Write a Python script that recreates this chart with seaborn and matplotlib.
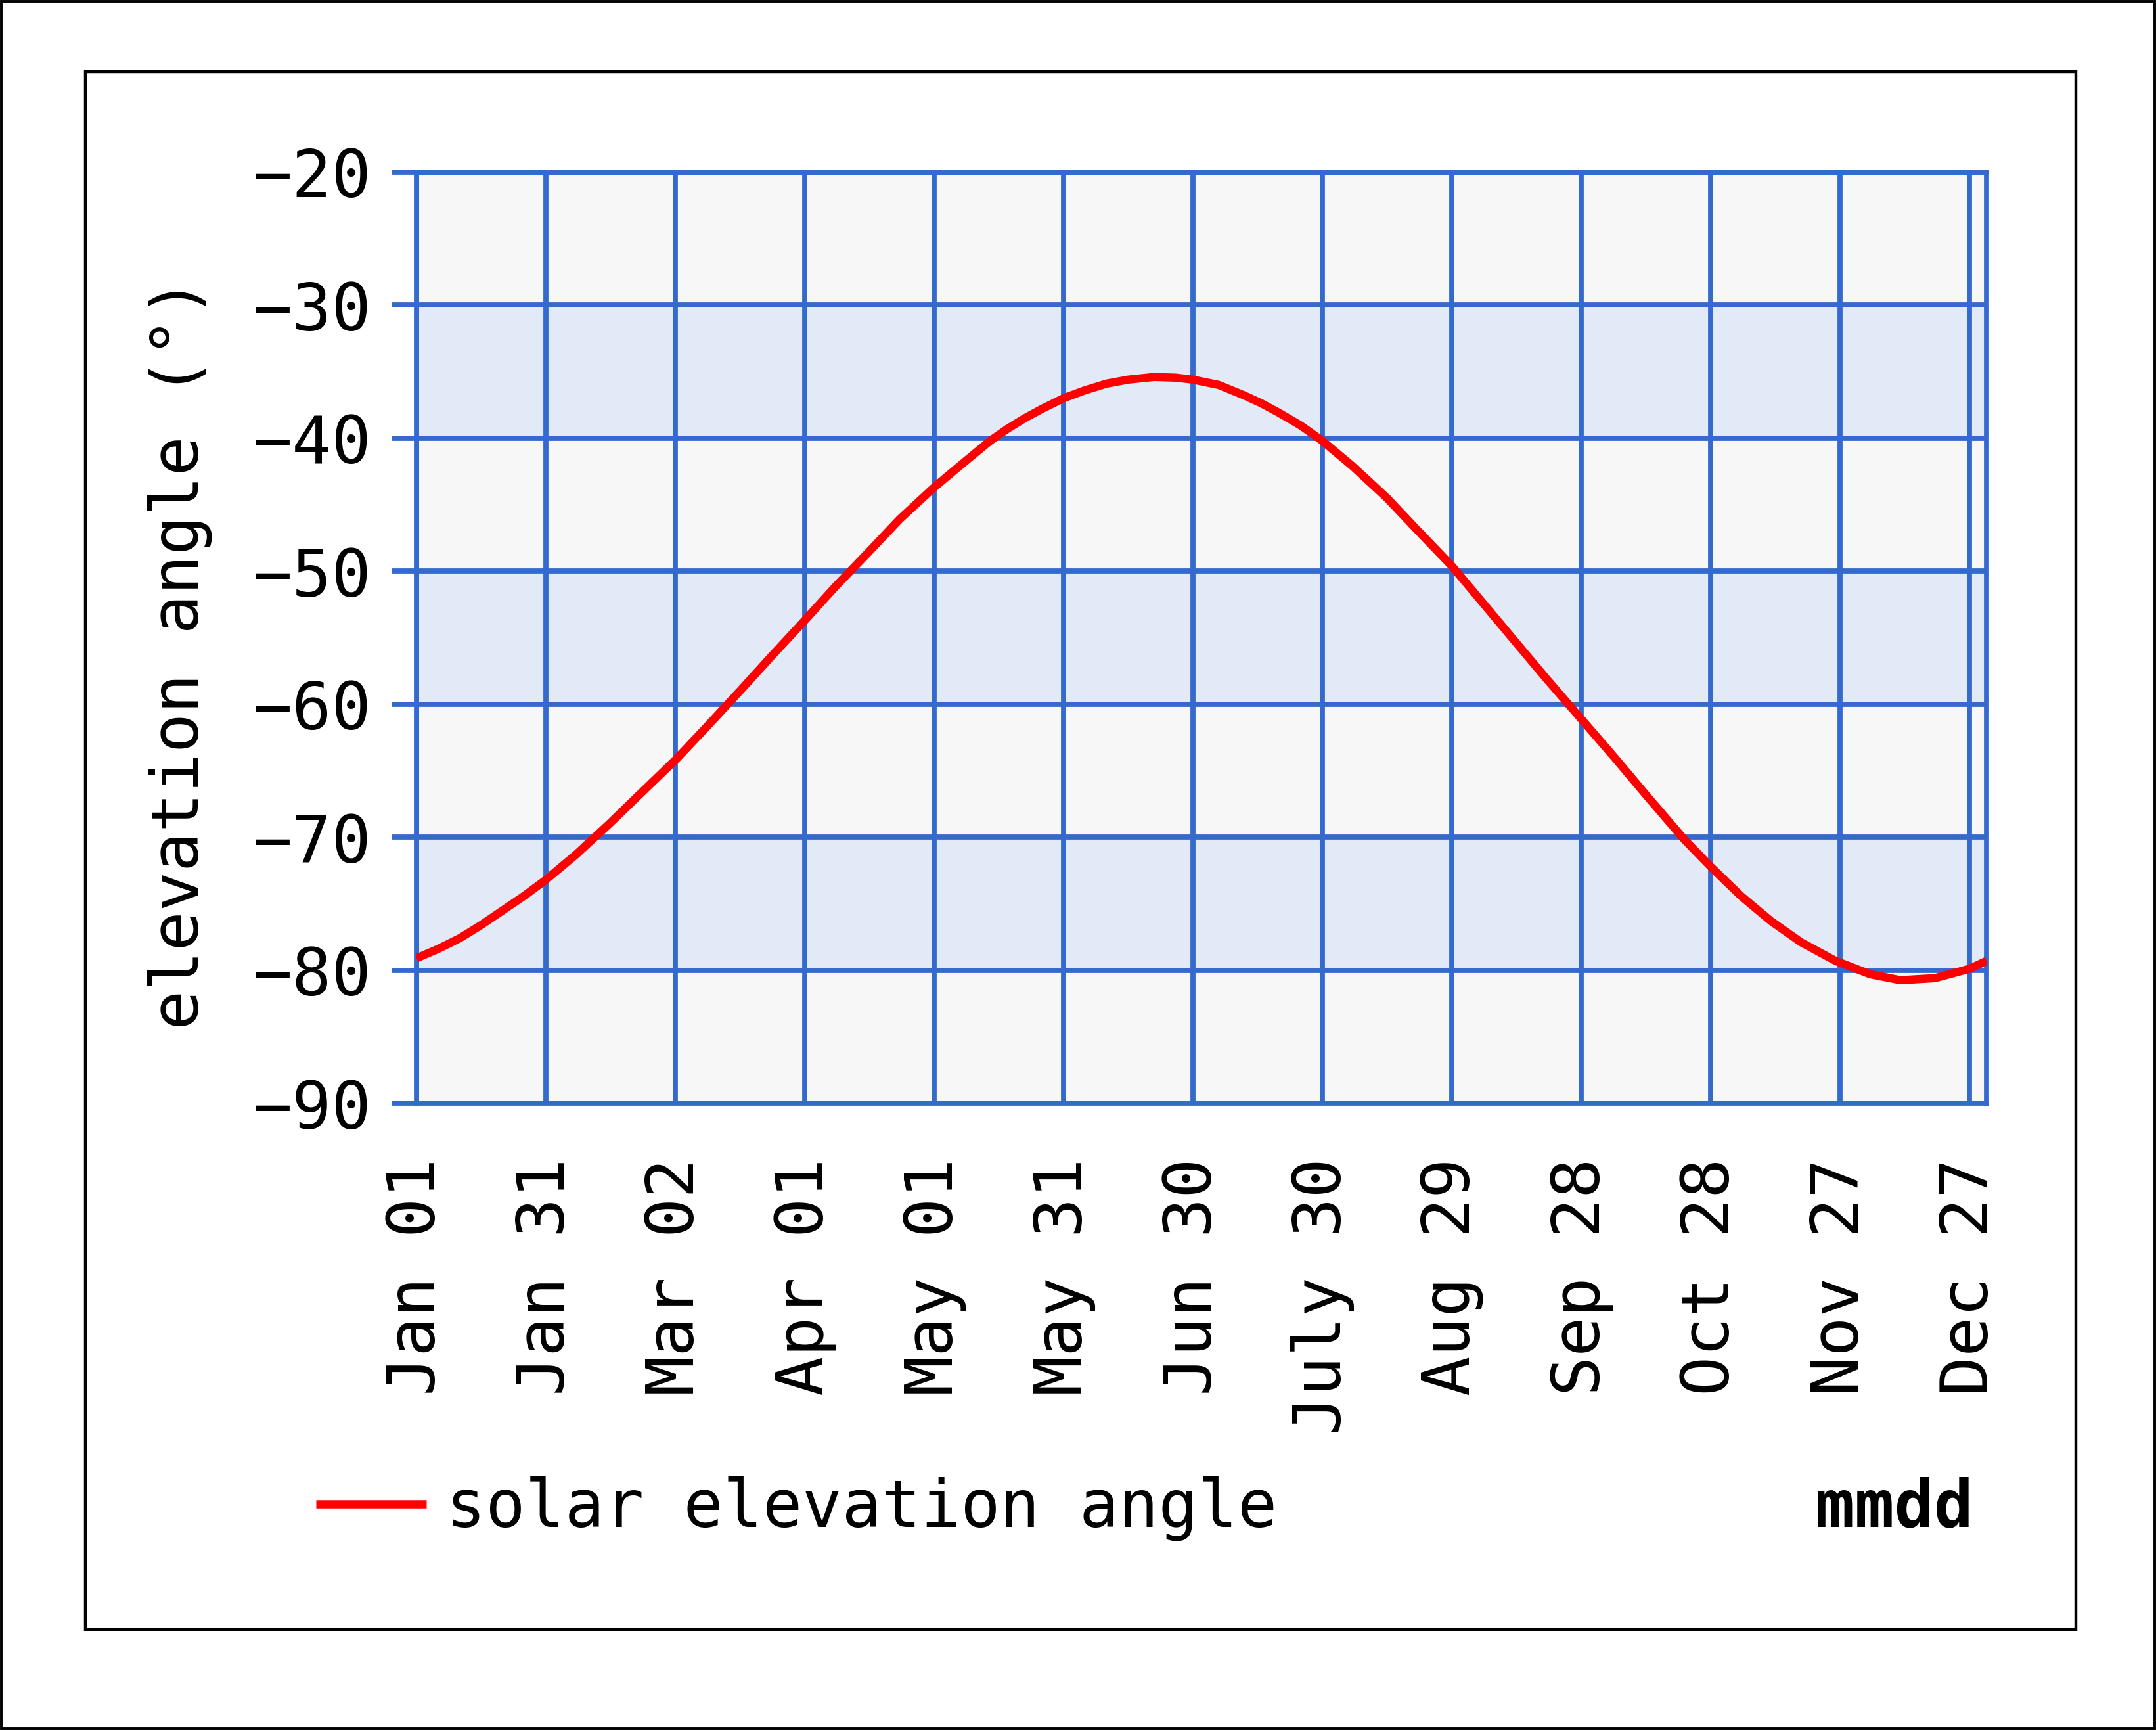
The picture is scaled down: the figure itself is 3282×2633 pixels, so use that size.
import matplotlib
matplotlib.use("Agg")
import matplotlib.pyplot as plt
from matplotlib.patches import Rectangle
import seaborn as sns

sns.set_theme(style="white")
plt.rcParams['font.family'] = ['DejaVu Sans Mono', 'DejaVu Sans']
plt.rcParams['text.color'] = 'black'
plt.rcParams['axes.labelcolor'] = 'black'

# day of year (Jan 01 = 0) and solar elevation angle
day_of_year = [0, 5, 10, 15, 20, 25, 30, 37, 45, 52, 60, 67, 75, 82, 90, 97,
               105, 112, 120, 127, 133, 137, 141, 145, 150, 155, 160, 165,
               171, 176, 180, 186, 192, 196, 200, 205, 210, 217, 225, 232,
               240, 247, 255, 262, 270, 278, 285, 294, 300, 307, 314, 321,
               329, 337, 344, 352, 360, 364]
elevation_deg = [-79.1, -78.4, -77.6, -76.6, -75.5, -74.4, -73.2, -71.3,
                 -68.9, -66.7, -64.2, -61.8, -59.0, -56.5, -53.7, -51.2,
                 -48.5, -46.1, -43.7, -41.8, -40.2, -39.3, -38.5, -37.8,
                 -37.0, -36.4, -35.9, -35.6, -35.4, -35.45, -35.6, -36.0,
                 -36.8, -37.4, -38.1, -39.05, -40.2, -42.1, -44.5, -46.9,
                 -49.6, -52.3, -55.4, -58.1, -61.1, -64.1, -66.8, -70.2,
                 -72.2, -74.4, -76.3, -77.9, -79.3, -80.3, -80.75, -80.6,
                 -79.9, -79.3]

tick_days = [0, 30, 60, 90, 120, 150, 180, 210, 240, 270, 300, 330, 360]
tick_labels = ['Jan 01', 'Jan 31', 'Mar 02', 'Apr 01', 'May 01', 'May 31',
               'Jun 30', 'July 30', 'Aug 29', 'Sep 28', 'Oct 28', 'Nov 27',
               'Dec 27']
y_ticks = [-90, -80, -70, -60, -50, -40, -30, -20]
shaded_bands = [(-40, -30), (-60, -50), (-80, -70)]

grid_blue = '#3469cd'
band_blue = '#e3eaf7'
plot_gray = '#f7f7f7'
fs = 36

fig = plt.figure(figsize=(16.41, 13.165), dpi=200)
fig.patch.set_facecolor('white')
ax = fig.add_axes([0.1932, 0.3623, 0.7282, 0.5382])
ax.set_facecolor(plot_gray)

for lo, hi in shaded_bands:
    ax.axhspan(lo, hi, color=band_blue, zorder=0.2, linewidth=0)

sns.lineplot(x=day_of_year, y=elevation_deg, ax=ax, color='#ff0000',
             linewidth=4.5, label='solar elevation angle', zorder=3,
             solid_joinstyle='round', solid_capstyle='butt')

ax.set_xlim(0, 364)
ax.set_ylim(-90, -20)
ax.set_xticks(tick_days)
ax.set_xticklabels(tick_labels, rotation=90, fontsize=fs)
ax.set_yticks(y_ticks)
ax.tick_params(axis='y', labelsize=fs, length=13.7, width=2.8,
               color=grid_blue, labelcolor='black', pad=11, left=True)
ax.tick_params(axis='x', length=0, pad=30, labelcolor='black')
ax.set_axisbelow(True)
ax.grid(True, color=grid_blue, linewidth=2.8, zorder=0.5)
for sp in ax.spines.values():
    sp.set_color(grid_blue)
    sp.set_linewidth(2.8)

ax.set_xlabel('')
ax.set_ylabel('elevation angle (°)', fontsize=fs)
ax.yaxis.set_label_coords(-0.13, 0.483)

handles, labels = ax.get_legend_handles_labels()
if ax.get_legend() is not None:
    ax.get_legend().remove()
fig.legend(handles, labels, loc='center left', bbox_to_anchor=(0.1466, 0.128),
           frameon=False, borderpad=0, borderaxespad=0, handlelength=1.68,
           handletextpad=0.3, fontsize=fs)

fig.text(0.8787, 0.128, 'mmdd', ha='center', va='center', fontsize=fs,
         fontweight='bold')

# inner frame and outer border
fig.patches.append(Rectangle((0.0396, 0.0581), 0.9233, 0.9005,
                             transform=fig.transFigure, fill=False,
                             edgecolor='black', linewidth=1.6))
fig.patches.append(Rectangle((0.0005, 0.0006), 0.999, 0.9988,
                             transform=fig.transFigure, fill=False,
                             edgecolor='black', linewidth=1.4))

fig.savefig('out.png', dpi=200)
